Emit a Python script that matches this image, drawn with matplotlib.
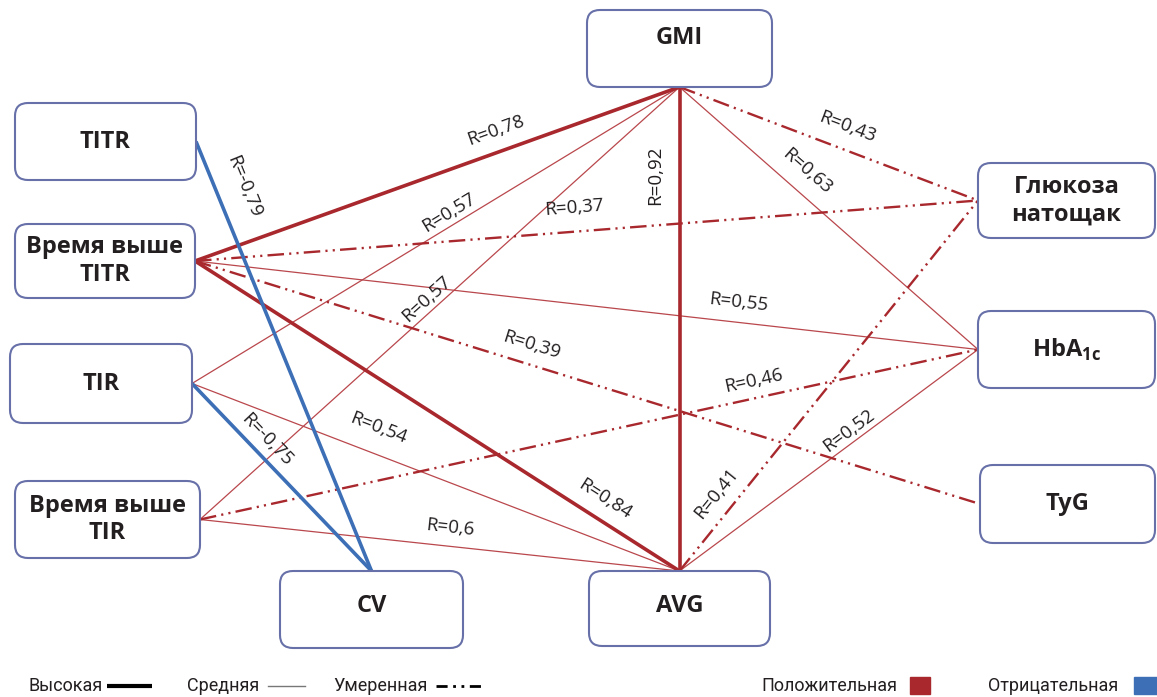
#!/usr/bin/env python3
"""
Correlation diagram: CGM metrics vs. glycaemic markers
"""

import numpy as np
import matplotlib
matplotlib.use('Agg')
import matplotlib.pyplot as plt
from matplotlib.patches import FancyBboxPatch, Rectangle

plt.rcParams['font.family'] = ['Open Sans', 'DejaVu Sans']
plt.rcParams['mathtext.fontset'] = 'custom'
plt.rcParams['mathtext.rm'] = 'Open Sans'
plt.rcParams['mathtext.bf'] = 'Open Sans:bold'

# nodes
node_names = ['TITR', 'Время выше\nTITR', 'TIR', 'Время выше\nTIR', 'CV',
              'AVG', 'GMI', 'Глюкоза\nнатощак', r'HbA$_{\mathbf{1c}}$', 'TyG']

# correlations
edge_src = ['TITR', 'TIR',
            'Время выше\nTITR', 'Время выше\nTITR', 'GMI',
            'Время выше\nTITR', 'Время выше\nTITR', 'Время выше\nTITR',
            'TIR', 'Время выше\nTIR', 'TIR', 'Время выше\nTIR', 'Время выше\nTIR',
            'GMI', 'GMI', 'AVG', 'AVG']
edge_dst = ['CV', 'CV',
            'GMI', 'AVG', 'AVG',
            'Глюкоза\nнатощак', r'HbA$_{\mathbf{1c}}$', 'TyG',
            'GMI', 'GMI', 'AVG', 'AVG', r'HbA$_{\mathbf{1c}}$',
            'Глюкоза\nнатощак', r'HbA$_{\mathbf{1c}}$', 'Глюкоза\nнатощак', r'HbA$_{\mathbf{1c}}$']
edge_r = [-0.79, -0.75,
          0.78, 0.84, 0.92,
          0.37, 0.55, 0.39,
          0.57, 0.57, 0.54, 0.6, 0.46,
          0.43, 0.63, 0.41, 0.52]
edge_strength = ['high', 'high',
                 'high', 'high', 'high',
                 'moderate', 'medium', 'moderate',
                 'medium', 'medium', 'medium', 'medium', 'moderate',
                 'moderate', 'medium', 'moderate', 'medium']

legend_strength = ['Высокая', 'Средняя', 'Умеренная']
legend_sign = ['Положительная', 'Отрицательная']

# ---- layout (pixel space, y downwards) ----
# box: x0, y0, x1, y1, anchor side, text y shift
boxes = {
    'TITR': (15, 103, 196, 180, 'right', 0),
    'Время выше\nTITR': (15, 224, 195, 298, 'right', 0),
    'TIR': (10, 344, 192, 423, 'right', 0),
    'Время выше\nTIR': (15, 481, 200, 558, 'right', 0),
    'CV': (280, 571, 463, 648, 'top', -3),
    'AVG': (589, 571, 770, 646, 'top', -2),
    'GMI': (587, 10, 772, 87, 'bottom', -10),
    'Глюкоза\nнатощак': (978, 163, 1155, 238, 'left', 0),
    r'HbA$_{\mathbf{1c}}$': (978, 311, 1155, 388, 'left', 0),
    'TyG': (980, 465, 1155, 543, 'left', 0),
}
# label placement: fraction along edge, perpendicular offset (px, towards top)
label_t = [0.13, 0.357, 0.636, 0.823, 0.182, 0.487, 0.691, 0.421,
           0.54, 0.49, 0.363, 0.517, 0.716, 0.537, 0.38, 0.175, 0.592]
label_off = [27, 15, 21, 20, 24, 24, 20, 19, 13, 12, 25, 19, 17, 22, 21, 20, 12]

RED = '#A8282D'
RED_THIN = '#B9474C'
BLUE = '#3D6FB6'
BOX_EDGE = '#6770A8'
TXT = '#231F20'
LEG_FONT = ['Roboto', 'DejaVu Sans']

styles = {
    'high': dict(lw=2.6, ls='-'),
    'medium': dict(lw=0.9, ls='-'),
    'moderate': dict(lw=1.7, ls=(0, (7, 2.2, 0.9, 2.2, 0.9, 2.2))),
}


def anchor(name):
    x0, y0, x1, y1, side, _ = boxes[name]
    if side == 'right':
        return x1, (y0 + y1) / 2
    if side == 'left':
        return x0, (y0 + y1) / 2
    if side == 'top':
        return (x0 + x1) / 2, y0
    return (x0 + x1) / 2, y1


fig = plt.figure(figsize=(11.57, 6.97), dpi=100)
ax = fig.add_axes([0, 0, 1, 1])
ax.set_xlim(0, 1157)
ax.set_ylim(697, 0)
ax.axis('off')

order = sorted(range(len(edge_r)),
               key=lambda i: ({'medium': 0, 'moderate': 1, 'high': 2}[edge_strength[i]],
                              edge_r[i] < 0))
for i in order:
    (xa, ya), (xb, yb) = anchor(edge_src[i]), anchor(edge_dst[i])
    st = styles[edge_strength[i]]
    if edge_r[i] < 0:
        col = BLUE
    elif edge_strength[i] == 'medium':
        col = RED_THIN
    else:
        col = RED
    ax.plot([xa, xb], [ya, yb], color=col, lw=st['lw'], ls=st['ls'],
            solid_capstyle='butt', zorder=2 + (edge_strength[i] == 'high'))

    # label
    dx, dy = xb - xa, yb - ya
    L = np.hypot(dx, dy)
    ux, uy = dx / L, dy / L
    nx, ny = uy, -ux
    if ny > 0 or (ny == 0 and nx > 0):
        nx, ny = -nx, -ny
    t, off = label_t[i], label_off[i]
    px = xa + t * dx + off * nx
    py = ya + t * dy + off * ny
    ang = -np.degrees(np.arctan2(dy, dx))
    if ang <= -90:
        ang += 180
    if ang > 90:
        ang -= 180
    lab = 'R=' + f'{edge_r[i]:g}'.replace('.', ',')
    ax.text(px, py, lab, rotation=ang, rotation_mode='anchor',
            ha='center', va='center', fontsize=13.5, color=TXT, zorder=5)

for name in node_names:
    x0, y0, x1, y1, _, shift = boxes[name]
    ax.add_patch(FancyBboxPatch((x0, y0), x1 - x0, y1 - y0,
                                boxstyle='round,pad=0,rounding_size=13',
                                fc='white', ec=BOX_EDGE, lw=1.5, zorder=4))
    ax.text((x0 + x1) / 2, (y0 + y1) / 2 + shift, name, ha='center', va='center',
            fontsize=17, fontweight='bold', color=TXT, linespacing=1.2, zorder=6)

# legend
ly = 686
kw = dict(va='center', fontsize=13, color=TXT, family=LEG_FONT)
ax.text(28, ly, legend_strength[0], ha='left', **kw)
ax.plot([107, 152], [ly, ly], color='black', lw=3, solid_capstyle='butt')
ax.text(187, ly, legend_strength[1], ha='left', **kw)
ax.plot([268, 305], [ly, ly], color='#777777', lw=1)
ax.text(333, ly, legend_strength[2], ha='left', **kw)
ax.plot([436, 483], [ly, ly], color='black', lw=2, ls=(0, (4, 2, 1, 2, 1, 2)))
ax.text(897, ly, legend_sign[0], ha='right', **kw)
ax.add_patch(Rectangle((910, 677), 20, 17, color=RED))
ax.text(1118, ly, legend_sign[1], ha='right', **kw)
ax.add_patch(Rectangle((1134, 677), 23, 17, color=BLUE))

fig.savefig('out.png', dpi=100)
